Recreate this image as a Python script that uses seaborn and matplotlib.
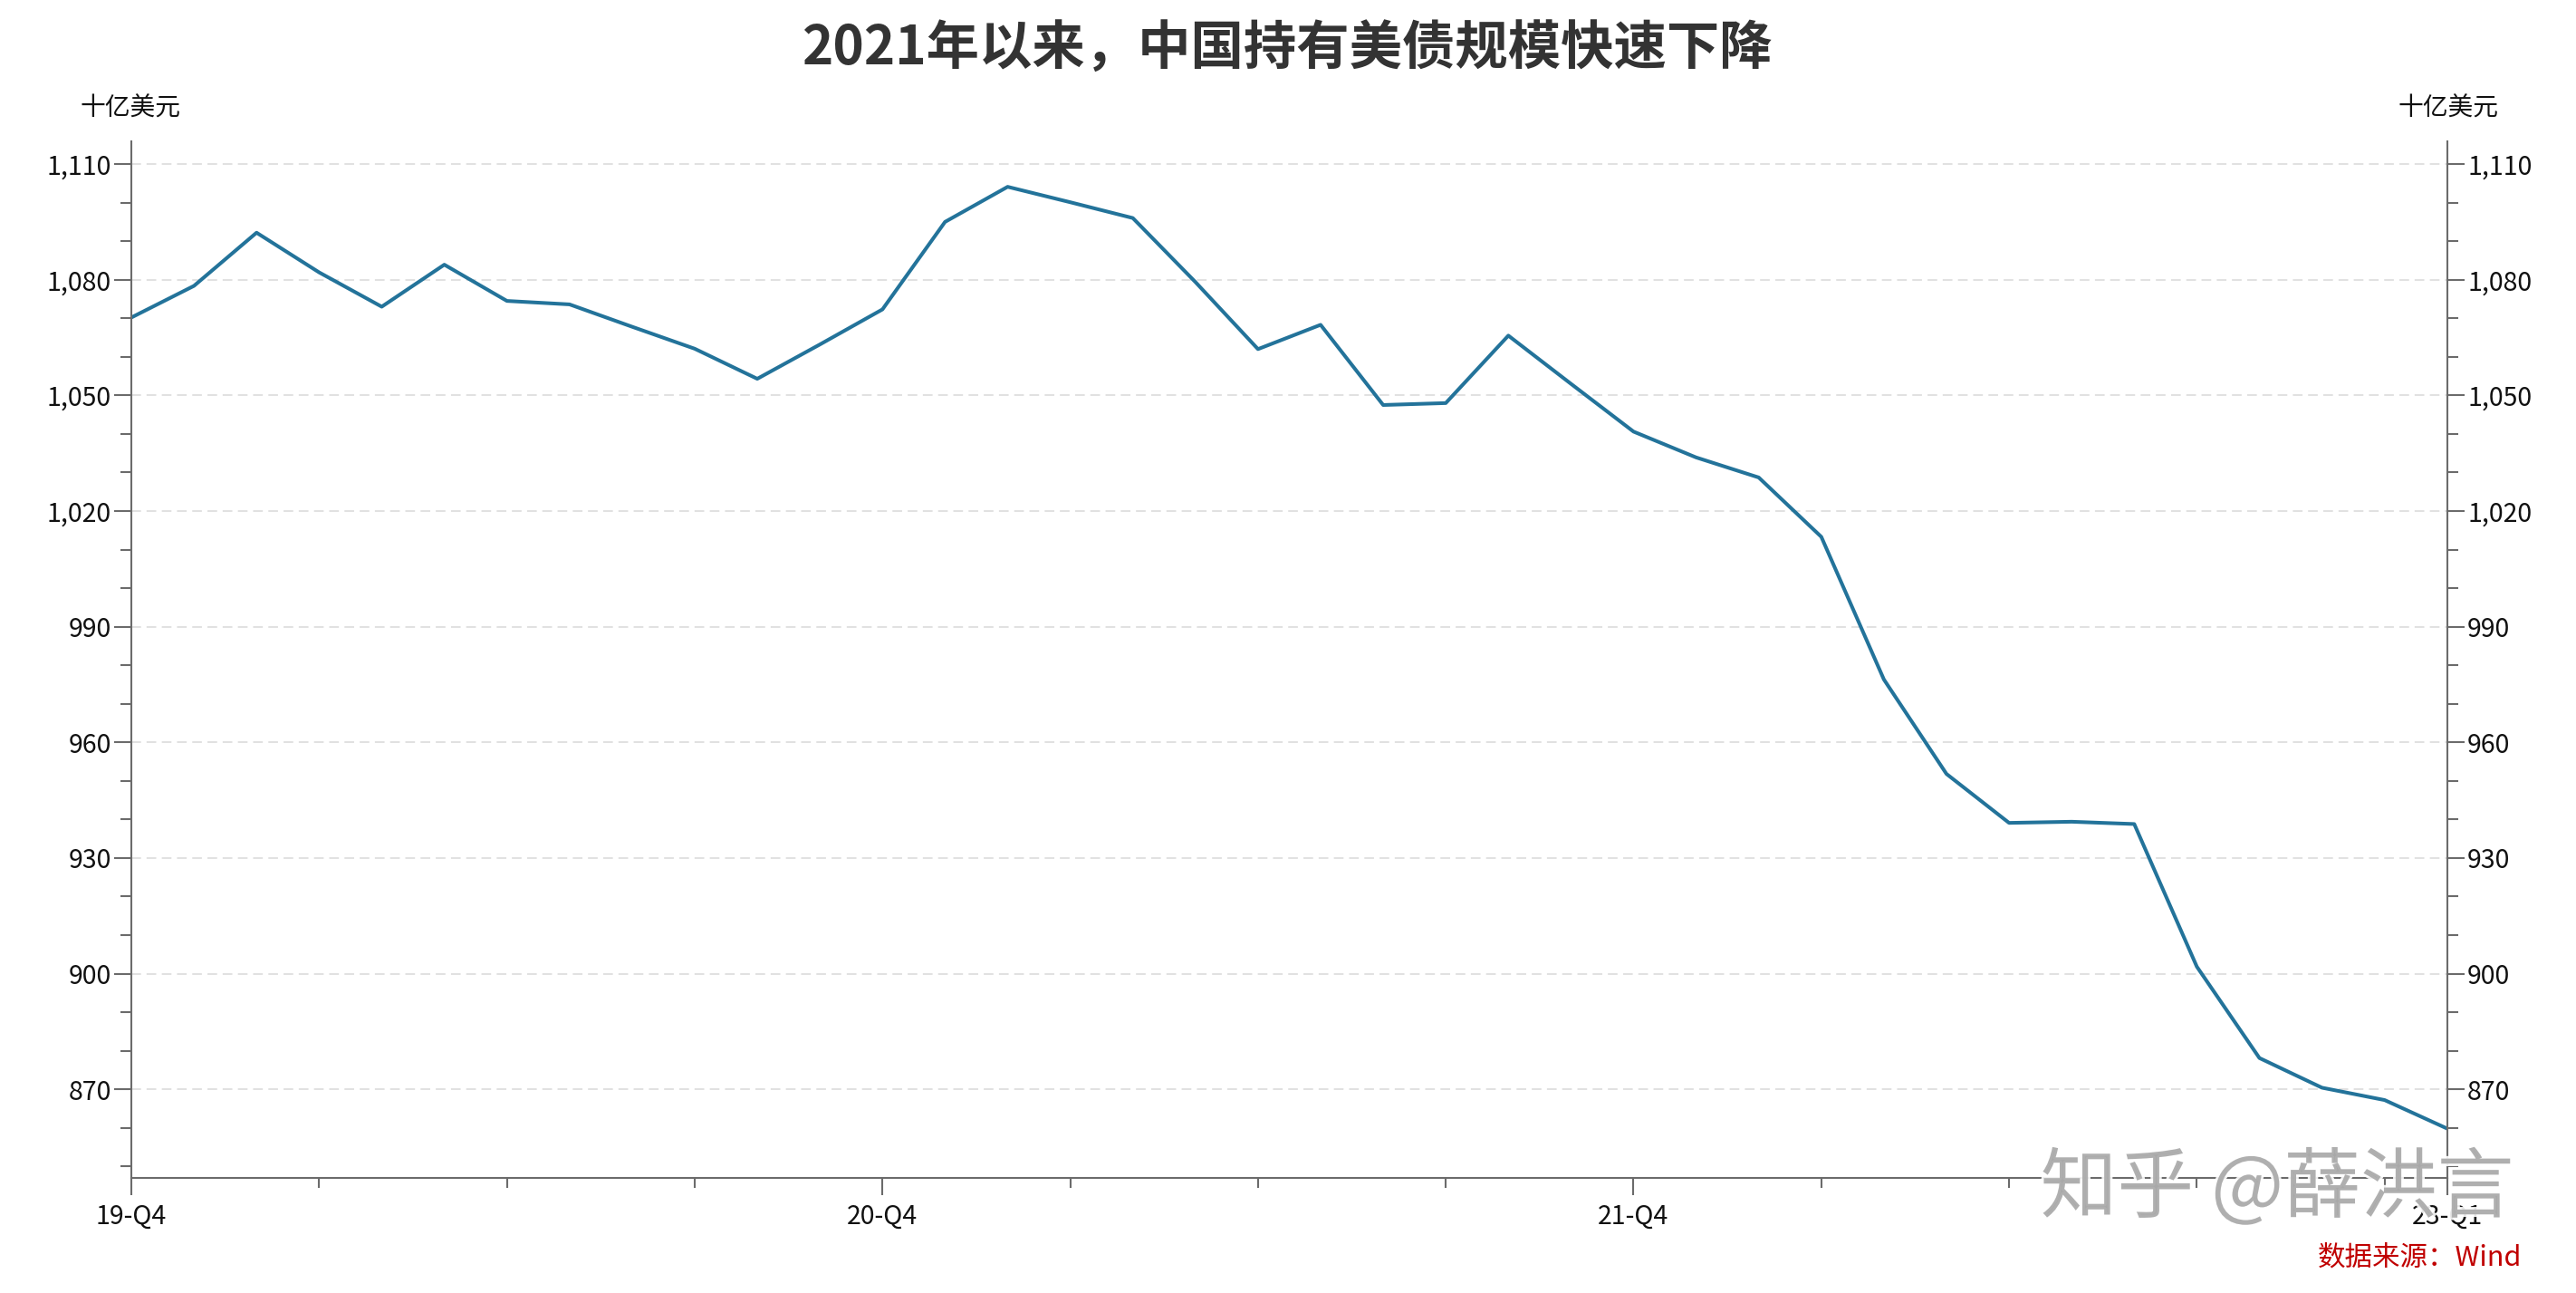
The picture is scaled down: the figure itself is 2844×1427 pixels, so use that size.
import numpy as np
import pandas as pd
import matplotlib
matplotlib.use("Agg")
import matplotlib.pyplot as plt
import matplotlib.ticker as mticker
import matplotlib.patheffects as pe
import seaborn as sns

# China holdings of US Treasuries, billion USD
holdings = [1070.2, 1078.4, 1092.2, 1081.9, 1073.0, 1083.9, 1074.5, 1073.6,
            1067.8, 1062.1, 1054.3, 1063.2, 1072.3, 1095.0, 1104.1, 1100.1,
            1096.0, 1079.4, 1062.0, 1068.3, 1047.5, 1048.0, 1065.5, 1053.0,
            1040.6, 1033.9, 1028.7, 1013.3, 976.3, 951.8, 939.1, 939.4,
            938.8, 901.8, 878.1, 870.4, 867.2, 859.8]
period = list(range(len(holdings)))
tick_pos = [0, 12, 24, 37]
tick_labels = ["19-Q4", "20-Q4", "21-Q4", "23-Q1"]

df = pd.DataFrame({"period": period, "holdings": holdings})

sns.set_theme(style="white")
plt.rcParams["font.family"] = ["Noto Sans CJK SC", "DejaVu Sans"]

fig = plt.figure(figsize=(28.44, 14.27), dpi=100)
ax = fig.add_axes([0.051, 0.089, 0.899, 0.802])

sns.lineplot(data=df, x="period", y="holdings", ax=ax, color="#23739a",
             linewidth=2.9)

axis_col = "#6b6b6b"
ax.set_xlim(0, len(holdings) - 1)
ax.set_ylim(847, 1116)
ax.set_xticks(tick_pos)
ax.set_xticklabels(tick_labels)
ax.xaxis.set_minor_locator(mticker.MultipleLocator(3))
ax.yaxis.set_major_locator(mticker.MultipleLocator(30))
ax.yaxis.set_minor_locator(mticker.MultipleLocator(10))
ax.yaxis.set_major_formatter(mticker.FuncFormatter(lambda v, p: f"{v:,.0f}"))
ax.set_xlabel("")
ax.set_ylabel("")

for s in ["left", "right", "bottom"]:
    ax.spines[s].set_visible(True)
    ax.spines[s].set_color(axis_col)
    ax.spines[s].set_linewidth(1.5)
ax.spines["top"].set_visible(False)

ax.tick_params(axis="y", which="both", left=True, right=True,
               labelleft=True, labelright=True, direction="out",
               color=axis_col, width=1.5, labelsize=20.5, labelcolor="#111111")
ax.tick_params(axis="y", which="major", length=14, pad=2)
ax.tick_params(axis="y", which="minor", length=8.5)
ax.tick_params(axis="x", which="both", bottom=True, direction="out",
               color=axis_col, width=1.5, labelsize=20.5, labelcolor="#111111")
ax.tick_params(axis="x", which="major", length=14, pad=6)
ax.tick_params(axis="x", which="minor", length=8)

ax.grid(axis="y", which="major", color="#d9d9d9", linestyle=(0, (7, 4)),
        linewidth=1.1)
ax.set_axisbelow(True)

fig.text(0.5, 0.962, "2021年以来，中国持有美债规模快速下降", ha="center",
         va="center", fontsize=42, fontweight="bold", color="#333333")
fig.text(0.0505, 0.916, "十亿美元", ha="center", va="center", fontsize=20,
         color="#111111")
fig.text(0.9505, 0.916, "十亿美元", ha="center", va="center", fontsize=20,
         color="#111111")

# watermark from the source image
wm = fig.text(0.884, 0.080, "知乎 @薛洪言", ha="center", va="center",
              fontsize=61, color="#a8a8a8", alpha=0.9)
wm.set_path_effects([pe.withStroke(linewidth=4, foreground="white")])

fig.text(0.979, 0.027, "数据来源：Wind", ha="right", va="center",
         fontsize=22, color="#c00000")

fig.savefig("out.png", dpi=100)
